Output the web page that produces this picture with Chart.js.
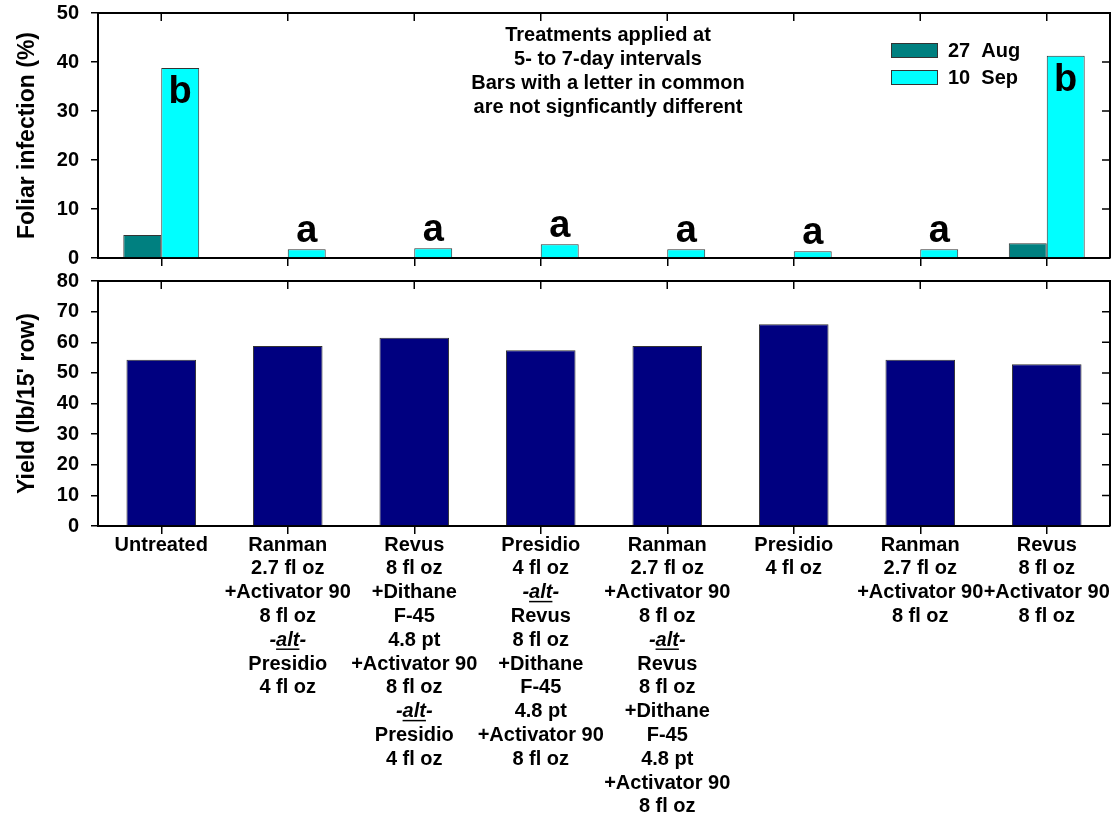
<!DOCTYPE html>
<html>
<head>
<meta charset="utf-8">
<script src="https://cdn.jsdelivr.net/npm/chart.js@4"></script>
<style>
  body { margin: 0; background: #fff; }
  canvas { display: block; }
</style>
</head>
<body>
<canvas id="topChart" width="1114" height="270"></canvas>
<canvas id="yieldChart" width="1114" height="549"></canvas>
<script>
// treatments, one entry per line of the label
const treatments = [
  ['Untreated'],
  ['Ranman', '2.7 fl oz', '+Activator 90', '8 fl oz', '-alt-', 'Presidio', '4 fl oz'],
  ['Revus', '8 fl oz', '+Dithane', 'F-45', '4.8 pt', '+Activator 90', '8 fl oz', '-alt-', 'Presidio', '4 fl oz'],
  ['Presidio', '4 fl oz', '-alt-', 'Revus', '8 fl oz', '+Dithane', 'F-45', '4.8 pt', '+Activator 90', '8 fl oz'],
  ['Ranman', '2.7 fl oz', '+Activator 90', '8 fl oz', '-alt-', 'Revus', '8 fl oz', '+Dithane', 'F-45', '4.8 pt', '+Activator 90', '8 fl oz'],
  ['Presidio', '4 fl oz'],
  ['Ranman', '2.7 fl oz', '+Activator 90', '8 fl oz'],
  ['Revus', '8 fl oz', '+Activator 90', '8 fl oz']
];
const aug27 = [4.7, 0, 0, 0, 0, 0, 0, 3.0];
const sep10 = [38.8, 1.8, 2.0, 2.8, 1.8, 1.4, 1.8, 41.3];
const letters = ['b', 'a', 'a', 'a', 'a', 'a', 'a', 'b'];
const yieldVals = [54.3, 58.8, 61.5, 57.4, 58.8, 65.9, 54.3, 52.8];
const note = ['Treatments applied at', '5- to 7-day intervals', 'Bars with a letter in common', 'are not signficantly different'];

const FONT = '"Liberation Sans", Arial, sans-serif';
Chart.defaults.font.family = FONT;
Chart.defaults.color = '#000';

// top and right side of the frame with inward ticks
const frame = {
  id: 'frame',
  afterDatasetsDraw(chart) {
    const {ctx, chartArea: a, scales: {x, y}} = chart;
    ctx.save();
    ctx.strokeStyle = '#000';
    ctx.lineWidth = 2;
    ctx.beginPath();
    ctx.moveTo(a.left, a.top);
    ctx.lineTo(a.right, a.top);
    ctx.lineTo(a.right, a.bottom);
    ctx.stroke();
    ctx.lineWidth = 1.5;
    ctx.beginPath();
    x.ticks.forEach((t, i) => {
      const px = x.getPixelForTick(i);
      ctx.moveTo(px, a.top); ctx.lineTo(px, a.top + 8);
    });
    y.ticks.forEach((t, i) => {
      const py = y.getPixelForTick(i);
      ctx.moveTo(a.right, py); ctx.lineTo(a.right - 8, py);
    });
    ctx.stroke();
    ctx.restore();
  }
};

// letters over the bars, the note and the legend
const notes = {
  id: 'notes',
  afterDatasetsDraw(chart) {
    const {ctx} = chart;
    const meta = chart.getDatasetMeta(1);
    ctx.save();
    ctx.fillStyle = '#000';
    ctx.textAlign = 'center';
    ctx.textBaseline = 'alphabetic';
    ctx.font = 'bold 38px ' + FONT;
    letters.forEach((l, i) => {
      const bar = meta.data[i];
      if (sep10[i] > 20) ctx.fillText(l, bar.x, bar.y + 35);
      else ctx.fillText(l, bar.x, bar.y - 7);
    });
    ctx.font = 'bold 20px ' + FONT;
    ctx.textBaseline = 'middle';
    note.forEach((s, j) => ctx.fillText(s, 608, 35 + j * 24));
    // legend
    ctx.textAlign = 'left';
    chart.data.datasets.forEach((ds, j) => {
      const y0 = 43 + j * 27;
      ctx.fillStyle = ds.backgroundColor;
      ctx.fillRect(891, y0, 47, 15);
      ctx.strokeStyle = '#333';
      ctx.lineWidth = 1;
      ctx.strokeRect(891.5, y0 + 0.5, 46, 14);
      ctx.fillStyle = '#000';
      ctx.fillText(ds.label, 948, y0 + 8);
    });
    ctx.restore();
  }
};

// multi-line treatment labels under the yield chart
const xLabels = {
  id: 'xLabels',
  afterDraw(chart) {
    const {ctx, chartArea: a, scales: {x}} = chart;
    ctx.save();
    ctx.fillStyle = '#000';
    ctx.strokeStyle = '#000';
    ctx.textBaseline = 'middle';
    treatments.forEach((lines, i) => {
      const cx = x.getPixelForTick(i);
      lines.forEach((s, j) => {
        const ly = a.bottom + 19 + j * 23.8;
        if (s === '-alt-') {
          ctx.font = 'italic bold 20px ' + FONT;
          ctx.textAlign = 'left';
          const wd = ctx.measureText('-').width, wa = ctx.measureText('alt').width;
          const x0 = cx - (wd * 2 + wa) / 2;
          ctx.fillText('-', x0, ly);
          ctx.fillText('alt', x0 + wd, ly);
          ctx.fillText('-', x0 + wd + wa, ly);
          ctx.lineWidth = 1.5;
          ctx.beginPath();
          ctx.moveTo(x0 + wd, ly + 9); ctx.lineTo(x0 + wd + wa, ly + 9);
          ctx.stroke();
        } else {
          ctx.font = 'bold 20px ' + FONT;
          ctx.textAlign = 'center';
          ctx.fillText(s, cx, ly);
        }
      });
    });
    ctx.restore();
  }
};

function yAxis(max, title) {
  return {
    min: 0, max: max,
    afterFit: s => { s.width = 98; s.paddingTop = 0; s.paddingBottom = 0; },
    ticks: {stepSize: 10, padding: 12, font: {size: 20, weight: 'bold'}, color: '#000'},
    grid: {drawOnChartArea: false, tickLength: 7, color: '#000', lineWidth: 1.5},
    border: {display: true, color: '#000', width: 2},
    title: {display: true, text: title, font: {size: 23, weight: 'bold'}, color: '#000', padding: {top: 14, bottom: 0}}
  };
}
function xAxis(h) {
  return {
    afterFit: s => { s.height = h; s.paddingLeft = 0; s.paddingRight = 0; },
    ticks: {display: false},
    grid: {drawOnChartArea: false, offset: false, tickLength: 8, color: '#000', lineWidth: 1.5},
    border: {display: true, color: '#000', width: 2}
  };
}

const labels = treatments.map(t => t.join(' '));

new Chart(document.getElementById('topChart'), {
  type: 'bar',
  data: {
    labels: labels,
    datasets: [
      {label: '27  Aug', data: aug27, backgroundColor: '#008080', borderColor: '#333', borderWidth: 1},
      {label: '10  Sep', data: sep10, backgroundColor: '#00ffff', borderColor: '#333', borderWidth: 1}
    ]
  },
  options: {
    responsive: false, animation: false, devicePixelRatio: 1,
    categoryPercentage: 0.6, barPercentage: 1,
    layout: {padding: {top: 13, right: 4, left: 0, bottom: 0}},
    plugins: {legend: {display: false}, tooltip: {enabled: false}},
    scales: {x: xAxis(12), y: yAxis(50, 'Foliar infection (%)')}
  },
  plugins: [frame, notes]
});

new Chart(document.getElementById('yieldChart'), {
  type: 'bar',
  data: {
    labels: labels,
    datasets: [
      {label: 'Yield', data: yieldVals, backgroundColor: '#000080', borderColor: '#333', borderWidth: 1}
    ]
  },
  options: {
    responsive: false, animation: false, devicePixelRatio: 1,
    categoryPercentage: 1, barPercentage: 0.55,
    layout: {padding: {top: 11, right: 4, left: 0, bottom: 0}},
    plugins: {legend: {display: false}, tooltip: {enabled: false}},
    scales: {x: xAxis(293), y: yAxis(80, "Yield (lb/15' row)")}
  },
  plugins: [frame, xLabels]
});
</script>
</body>
</html>
